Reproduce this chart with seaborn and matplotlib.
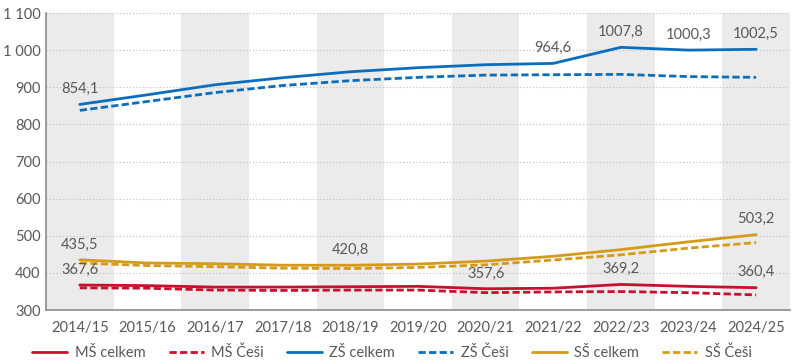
import numpy as np
import matplotlib
matplotlib.use("Agg")
import matplotlib.pyplot as plt
import pandas as pd
import seaborn as sns

years = ["2014/15", "2015/16", "2016/17", "2017/18", "2018/19", "2019/20",
         "2020/21", "2021/22", "2022/23", "2023/24", "2024/25"]

ms_celkem = [367.6, 366, 362, 362, 363, 364, 357.6, 359, 369.2, 364, 360.4]
ms_cesi = [360, 359, 354, 353, 354, 354, 347, 349, 350, 347, 341]
zs_celkem = [854.1, 880, 907, 926, 942, 953, 961, 964.6, 1007.8, 1000.3, 1002.5]
zs_cesi = [838, 862, 886, 905, 918, 927, 933, 934, 935, 929, 927]
ss_celkem = [435.5, 427, 425, 421, 420.8, 424, 432, 445, 463, 484, 503.2]
ss_cesi = [427, 420, 417, 413, 412, 415, 422, 435, 449, 467, 482]

# which points get a value label, per series
labels_ms = [0, 6, 8, 10]
labels_zs = [0, 7, 8, 9, 10]
labels_ss = [0, 4, 10]

red = "#C8102E"
blue = "#0A6EBD"
gold = "#D69A1B"
txt = "#595959"
dash = (0, (2.6, 1.2))

series = [
    ("MŠ celkem", ms_celkem, red, "-"),
    ("MŠ Češi", ms_cesi, red, dash),
    ("ZŠ celkem", zs_celkem, blue, "-"),
    ("ZŠ Češi", zs_cesi, blue, dash),
    ("SŠ celkem", ss_celkem, gold, "-"),
    ("SŠ Češi", ss_cesi, gold, dash),
]

sns.set_style("white")
plt.rcParams['font.family'] = ['Lato', 'DejaVu Sans']

fig = plt.figure(figsize=(8, 3.64), dpi=100)
ax = fig.add_axes([0.0575, 0.148, 0.93, 0.816])

x = np.arange(len(years))
for i in x:
    if i % 2 == 0:
        ax.axvspan(i - 0.5, i + 0.5, color="#ebebeb", lw=0, zorder=0)

for yv in range(400, 1101, 100):
    ax.axhline(yv, color="#bdbdbd", lw=0.8, ls=(0, (1, 2)), zorder=1)

for name, vals, col, ls in series:
    df = pd.DataFrame({"x": x, "y": vals})
    sns.lineplot(data=df, x="x", y="y", ax=ax, color=col, lw=2.0,
                 linestyle=ls, label=name, zorder=3)

def annotate(vals, idxs):
    for i in idxs:
        s = f"{vals[i]:.1f}".replace(".", ",")
        ax.annotate(s, (i, vals[i]), xytext=(0, 6), textcoords="offset points",
                    ha="center", va="bottom", fontsize=10.5, color=txt)

annotate(ms_celkem, labels_ms)
annotate(zs_celkem, labels_zs)
annotate(ss_celkem, labels_ss)

ax.set_xlim(-0.5, len(years) - 0.5)
ax.set_ylim(300, 1100)
ax.set_xticks(x)
ax.set_xticklabels(years)
yt = list(range(300, 1101, 100))
ax.set_yticks(yt)
ax.set_yticklabels([f"{v:,}".replace(",", " ") for v in yt])
ax.tick_params(axis="both", labelsize=10.5, colors=txt, length=0)
ax.tick_params(axis="x", pad=8)
ax.tick_params(axis="y", pad=4)
ax.set_xlabel("")
ax.set_ylabel("")

for side in ["top", "right"]:
    ax.spines[side].set_visible(False)
for side in ["left", "bottom"]:
    ax.spines[side].set_color("#8c8c8c")
    ax.spines[side].set_linewidth(1.2)

ax.legend(loc="center", bbox_to_anchor=(0.49, 0.03), bbox_transform=fig.transFigure,
          ncol=6, frameon=False, fontsize=10.5, handlelength=2.4,
          columnspacing=1.6, handletextpad=0.5, labelcolor=txt)

fig.savefig("out.png", dpi=100)
